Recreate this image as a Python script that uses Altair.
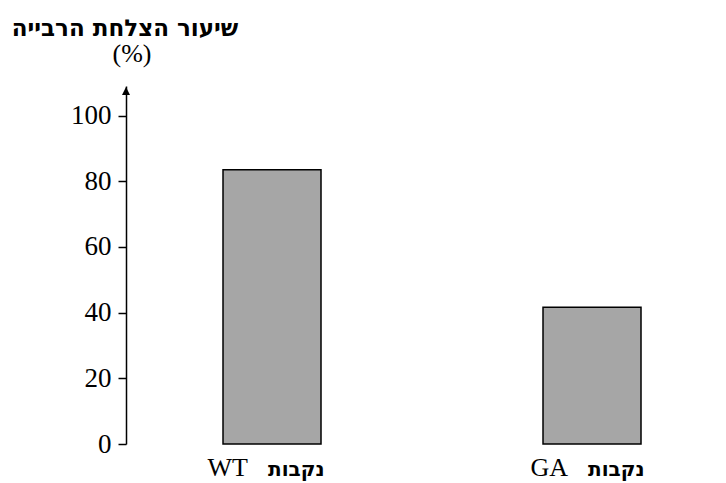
import altair as alt
import pandas as pd

groups = ["WT", "GA"]
rates = [83.5, 41.6]
hebrew_word = "נקבות"
y_ticks = [0, 20, 40, 60, 80, 100]
title_text = "שיעור הצלחת הרבייה"
unit_text = "(%)"

W, H = 592, 358

df = pd.DataFrame({"group": groups, "rate": rates, "heb": [hebrew_word] * len(groups)})

x_enc = alt.X(
    "group:N",
    sort=groups,
    scale=alt.Scale(paddingInner=0.69375, paddingOuter=0.271875, align=0.5575),
    axis=alt.Axis(title=None, labels=False, ticks=False, domainColor="black",
                  domainWidth=1.5),
)
y_enc = alt.Y(
    "rate:Q",
    scale=alt.Scale(domain=[0, 109], nice=False, zero=True),
    axis=alt.Axis(values=y_ticks, title=None, tickSize=8, tickColor="black",
                  tickWidth=1.5, domainColor="black", domainWidth=1.5,
                  labelFont="Liberation Serif", labelFontSize=27,
                  labelColor="black", labelPadding=7, grid=False),
)

bars = alt.Chart(df).mark_bar(color="#a6a6a6", stroke="black", strokeWidth=1.5).encode(
    x=x_enc, y=y_enc
)

x_plain = alt.X("group:N", sort=groups, axis=None)

eng_labels = alt.Chart(df).mark_text(
    font="Liberation Serif", fontSize=26, color="black", align="right",
    baseline="alphabetic", dx=-24,
).encode(x=x_plain, y=alt.value(H + 32), text="group:N")

heb_labels = alt.Chart(df).mark_text(
    font="DejaVu Sans", fontSize=20, fontWeight="bold", color="black",
    align="left", baseline="alphabetic", dx=-4,
).encode(x=x_plain, y=alt.value(H + 32), text="heb:N")

one = pd.DataFrame({"a": [0]})

arrow = alt.Chart(one).mark_point(
    shape="M0,-1L-1,1L1,1Z", filled=True, fill="black", stroke="black",
    strokeWidth=0, size=64, opacity=1,
).encode(x=alt.value(0), y=alt.datum(107.5))

title_mark = alt.Chart(one).mark_text(
    text=title_text, font="DejaVu Sans", fontSize=23, fontWeight="bold",
    color="black", align="center", baseline="alphabetic",
).encode(x=alt.value(-1), y=alt.value(-50))

unit_mark = alt.Chart(one).mark_text(
    text=unit_text, font="Liberation Serif", fontSize=26,
    color="black", align="center", baseline="alphabetic",
).encode(x=alt.value(6), y=alt.value(-24))

chart = alt.layer(bars, eng_labels, heb_labels, arrow, title_mark, unit_mark).properties(
    width=W, height=H,
    autosize=alt.AutoSizeParams(type="none"),
    padding={"left": 118, "top": 78, "right": 0, "bottom": 38},
).configure_view(stroke=None)

chart.save("out.html", embed_options={"renderer": "svg", "actions": False})
